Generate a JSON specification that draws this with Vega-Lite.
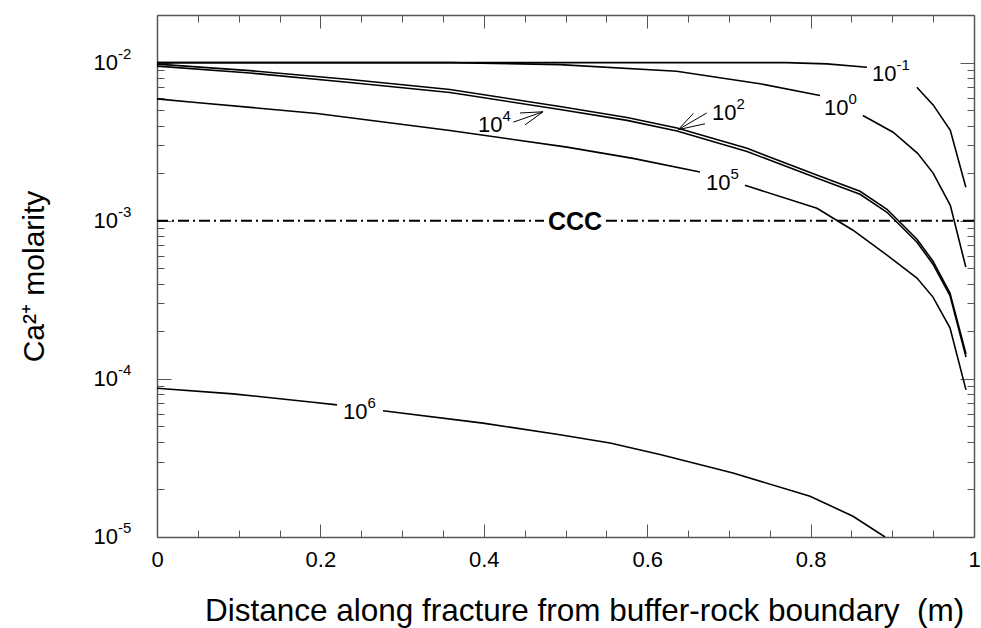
{
  "$schema": "https://vega.github.io/schema/vega-lite/v6.json",
  "width": 817,
  "height": 522,
  "autosize": {"type": "none"},
  "padding": {"left": 157, "top": 15, "right": 7, "bottom": 91},
  "background": "white",
  "config": {
    "view": {"stroke": null},
    "font": "Liberation Sans",
    "text": {"font": "Liberation Sans", "color": "#000"}
  },
  "datasets": {
    "curves": [
      {"s": "m1", "p": 1, "x": 0, "y": 0.01},
      {"s": "m1", "p": 1, "x": 0.77, "y": 0.01},
      {"s": "m1", "p": 1, "x": 0.82, "y": 0.00982},
      {"s": "m1", "p": 1, "x": 0.869, "y": 0.00934},
      {"s": "m1", "p": 2, "x": 0.93, "y": 0.00698},
      {"s": "m1", "p": 2, "x": 0.95, "y": 0.0054},
      {"s": "m1", "p": 2, "x": 0.971, "y": 0.00373},
      {"s": "m1", "p": 2, "x": 0.99, "y": 0.00163},

      {"s": "e0", "p": 1, "x": 0, "y": 0.01},
      {"s": "e0", "p": 1, "x": 0.36, "y": 0.01},
      {"s": "e0", "p": 1, "x": 0.493, "y": 0.00971},
      {"s": "e0", "p": 1, "x": 0.636, "y": 0.00881},
      {"s": "e0", "p": 1, "x": 0.738, "y": 0.00735},
      {"s": "e0", "p": 1, "x": 0.8115, "y": 0.00619},
      {"s": "e0", "p": 2, "x": 0.864, "y": 0.00463},
      {"s": "e0", "p": 2, "x": 0.901, "y": 0.00363},
      {"s": "e0", "p": 2, "x": 0.931, "y": 0.00267},
      {"s": "e0", "p": 2, "x": 0.95, "y": 0.002},
      {"s": "e0", "p": 2, "x": 0.971, "y": 0.00125},
      {"s": "e0", "p": 2, "x": 0.99, "y": 0.000509},

      {"s": "e2", "p": 1, "x": 0, "y": 0.00978},
      {"s": "e2", "p": 1, "x": 0.1138, "y": 0.0089},
      {"s": "e2", "p": 1, "x": 0.2362, "y": 0.00781},
      {"s": "e2", "p": 1, "x": 0.3586, "y": 0.00676},
      {"s": "e2", "p": 1, "x": 0.4933, "y": 0.00528},
      {"s": "e2", "p": 1, "x": 0.5753, "y": 0.0045},
      {"s": "e2", "p": 1, "x": 0.6365, "y": 0.003862},
      {"s": "e2", "p": 1, "x": 0.7222, "y": 0.00287},
      {"s": "e2", "p": 1, "x": 0.8115, "y": 0.001909},
      {"s": "e2", "p": 1, "x": 0.8605, "y": 0.001535},
      {"s": "e2", "p": 1, "x": 0.8935, "y": 0.001182},
      {"s": "e2", "p": 1, "x": 0.907, "y": 0.001007},
      {"s": "e2", "p": 1, "x": 0.9302, "y": 0.000764},
      {"s": "e2", "p": 1, "x": 0.9498, "y": 0.000555},
      {"s": "e2", "p": 1, "x": 0.9706, "y": 0.000349},
      {"s": "e2", "p": 1, "x": 0.9902, "y": 0.0001438},

      {"s": "e4", "p": 1, "x": 0, "y": 0.0095},
      {"s": "e4", "p": 1, "x": 0.1138, "y": 0.00859},
      {"s": "e4", "p": 1, "x": 0.2362, "y": 0.00748},
      {"s": "e4", "p": 1, "x": 0.3586, "y": 0.00647},
      {"s": "e4", "p": 1, "x": 0.4933, "y": 0.00505},
      {"s": "e4", "p": 1, "x": 0.5753, "y": 0.00431},
      {"s": "e4", "p": 1, "x": 0.6365, "y": 0.003697},
      {"s": "e4", "p": 1, "x": 0.7222, "y": 0.00274},
      {"s": "e4", "p": 1, "x": 0.8115, "y": 0.001827},
      {"s": "e4", "p": 1, "x": 0.8605, "y": 0.001469},
      {"s": "e4", "p": 1, "x": 0.8935, "y": 0.001131},
      {"s": "e4", "p": 1, "x": 0.907, "y": 0.000964},
      {"s": "e4", "p": 1, "x": 0.9302, "y": 0.000732},
      {"s": "e4", "p": 1, "x": 0.9498, "y": 0.000531},
      {"s": "e4", "p": 1, "x": 0.9706, "y": 0.000336},
      {"s": "e4", "p": 1, "x": 0.9902, "y": 0.0001376},

      {"s": "e5", "p": 1, "x": 0, "y": 0.0059},
      {"s": "e5", "p": 1, "x": 0.0441, "y": 0.00562},
      {"s": "e5", "p": 1, "x": 0.1958, "y": 0.00477},
      {"s": "e5", "p": 1, "x": 0.3586, "y": 0.00372},
      {"s": "e5", "p": 1, "x": 0.5018, "y": 0.00292},
      {"s": "e5", "p": 1, "x": 0.5826, "y": 0.002479},
      {"s": "e5", "p": 1, "x": 0.6646, "y": 0.002032},
      {"s": "e5", "p": 2, "x": 0.7197, "y": 0.001675},
      {"s": "e5", "p": 2, "x": 0.8078, "y": 0.001199},
      {"s": "e5", "p": 2, "x": 0.8519, "y": 0.000871},
      {"s": "e5", "p": 2, "x": 0.8935, "y": 0.000606},
      {"s": "e5", "p": 2, "x": 0.9302, "y": 0.000434},
      {"s": "e5", "p": 2, "x": 0.9498, "y": 0.000329},
      {"s": "e5", "p": 2, "x": 0.9706, "y": 0.00021},
      {"s": "e5", "p": 2, "x": 0.9902, "y": 0.0000852},

      {"s": "e6", "p": 1, "x": 0, "y": 0.0000873},
      {"s": "e6", "p": 1, "x": 0.093, "y": 0.0000804},
      {"s": "e6", "p": 1, "x": 0.1909, "y": 0.0000711},
      {"s": "e6", "p": 1, "x": 0.2203, "y": 0.0000685},
      {"s": "e6", "p": 2, "x": 0.2766, "y": 0.0000628},
      {"s": "e6", "p": 2, "x": 0.399, "y": 0.0000525},
      {"s": "e6", "p": 2, "x": 0.4933, "y": 0.0000443},
      {"s": "e6", "p": 2, "x": 0.5545, "y": 0.0000393},
      {"s": "e6", "p": 2, "x": 0.6157, "y": 0.0000332},
      {"s": "e6", "p": 2, "x": 0.705, "y": 0.0000254},
      {"s": "e6", "p": 2, "x": 0.7993, "y": 0.0000181},
      {"s": "e6", "p": 2, "x": 0.8519, "y": 0.00001353},
      {"s": "e6", "p": 2, "x": 0.8911, "y": 0.00001}
    ],
    "ccc": [
      {"p": 1, "x": 0, "y": 0.001},
      {"p": 1, "x": 0.4737, "y": 0.001},
      {"p": 2, "x": 0.5495, "y": 0.001},
      {"p": 2, "x": 1, "y": 0.001}
    ],
    "arrows": [
      {"x": 0.4361, "y": 0.004201, "x2": 0.4725, "y2": 0.004887},
      {"x": 0.4443, "y": 0.004801, "x2": 0.4725, "y2": 0.004887},
      {"x": 0.4504, "y": 0.004034, "x2": 0.4725, "y2": 0.004887},
      {"x": 0.6728, "y": 0.004801, "x2": 0.6381, "y2": 0.003767},
      {"x": 0.6564, "y": 0.00477, "x2": 0.6381, "y2": 0.003767},
      {"x": 0.6708, "y": 0.004104, "x2": 0.6381, "y2": 0.003767}
    ],
    "curveLabels": [
      {"x": 0.8752, "y": 0.0077, "e": "-1"},
      {"x": 0.8164, "y": 0.004629, "e": "0"},
      {"x": 0.6793, "y": 0.004306, "e": "2"},
      {"x": 0.3929, "y": 0.003634, "e": "4"},
      {"x": 0.672, "y": 0.001557, "e": "5"},
      {"x": 0.2277, "y": 0.0000559, "e": "6"}
    ],
    "yLabels": [
      {"x": 0, "y": 0.01, "e": "-2"},
      {"x": 0, "y": 0.001, "e": "-3"},
      {"x": 0, "y": 0.0001, "e": "-4"},
      {"x": 0, "y": 0.00001, "e": "-5"}
    ],
    "cccLabel": [
      {"x": 0.5116, "y": 0.000871, "t": "CCC"}
    ]
  },
  "encoding": {
    "x": {"field": "x", "type": "quantitative", "scale": {"domain": [0, 1], "nice": false, "zero": false}, "axis": null},
    "y": {"field": "y", "type": "quantitative", "scale": {"type": "log", "domain": [0.00001, 0.02], "nice": false}, "axis": null}
  },
  "layer": [
    {
      "data": {"name": "curves"},
      "mark": {"type": "line", "color": "#000", "strokeWidth": 1.6, "clip": true},
      "encoding": {
        "x": {
          "field": "x", "type": "quantitative",
          "scale": {"domain": [0, 1], "nice": false, "zero": false},
          "axis": {
            "orient": "bottom",
            "values": [0, 0.05, 0.1, 0.15, 0.2, 0.25, 0.3, 0.35, 0.4, 0.45, 0.5, 0.55, 0.6, 0.65, 0.7, 0.75, 0.8, 0.85, 0.9, 0.95, 1],
            "labelExpr": "abs(datum.value * 5 - round(datum.value * 5)) < 0.001 ? format(datum.value, '~g') : ''",
            "labelFont": "Liberation Sans", "labelFontSize": 22, "labelColor": "#000",
            "labelPadding": 25, "labelBaseline": "top", "labelFlush": false, "labelOverlap": false,
            "domain": true, "domainColor": "#555", "domainWidth": 1.5,
            "ticks": true, "tickColor": "#555", "tickWidth": 1,
            "tickSize": {"condition": {"test": "abs(datum.value * 5 - round(datum.value * 5)) < 0.001", "value": -13}, "value": -7},
            "grid": false,
            "title": "Distance along fracture from buffer-rock boundary\u00a0 (m)",
            "titleFont": "Liberation Sans", "titleFontSize": 31.5, "titleFontWeight": "normal", "titleColor": "#000",
            "titlePadding": 19, "titleX": 427, "titleAlign": "center"
          }
        },
        "y": {
          "field": "y", "type": "quantitative",
          "scale": {"type": "log", "domain": [0.00001, 0.02], "nice": false},
          "axis": {
            "orient": "left",
            "values": [0.00001, 0.00002, 0.00003, 0.00004, 0.00005, 0.00006, 0.00007, 0.00008, 0.00009,
                       0.0001, 0.0002, 0.0003, 0.0004, 0.0005, 0.0006, 0.0007, 0.0008, 0.0009,
                       0.001, 0.002, 0.003, 0.004, 0.005, 0.006, 0.007, 0.008, 0.009, 0.01],
            "labels": false,
            "domain": true, "domainColor": "#555", "domainWidth": 1.5,
            "ticks": true, "tickColor": "#555", "tickWidth": 1,
            "tickSize": {"condition": {"test": "abs(log(datum.value) / LN10 - round(log(datum.value) / LN10)) < 0.001", "value": -14}, "value": -7},
            "grid": false,
            "title": "Ca²⁺ molarity",
            "titleFont": "Liberation Sans", "titleFontSize": 30, "titleFontWeight": "normal", "titleColor": "#000",
            "titlePadding": 107
          }
        },
        "detail": [{"field": "s"}, {"field": "p"}]
      }
    },
    {
      "data": {"name": "ccc"},
      "mark": {"type": "line", "color": "#000", "strokeWidth": 2, "strokeDash": [11, 4, 2, 4]},
      "encoding": {
        "x": {
          "field": "x", "type": "quantitative",
          "scale": {"domain": [0, 1], "nice": false, "zero": false},
          "axis": {
            "orient": "top",
            "values": [0, 0.05, 0.1, 0.15, 0.2, 0.25, 0.3, 0.35, 0.4, 0.45, 0.5, 0.55, 0.6, 0.65, 0.7, 0.75, 0.8, 0.85, 0.9, 0.95, 1],
            "labels": false,
            "domain": true, "domainColor": "#555", "domainWidth": 1.5,
            "ticks": true, "tickColor": "#555", "tickWidth": 1,
            "tickSize": {"condition": {"test": "abs(datum.value * 5 - round(datum.value * 5)) < 0.001", "value": -13}, "value": -7},
            "grid": false, "title": null
          }
        },
        "y": {
          "field": "y", "type": "quantitative",
          "scale": {"type": "log", "domain": [0.00001, 0.02], "nice": false},
          "axis": {
            "orient": "right",
            "values": [0.00001, 0.00002, 0.00003, 0.00004, 0.00005, 0.00006, 0.00007, 0.00008, 0.00009,
                       0.0001, 0.0002, 0.0003, 0.0004, 0.0005, 0.0006, 0.0007, 0.0008, 0.0009,
                       0.001, 0.002, 0.003, 0.004, 0.005, 0.006, 0.007, 0.008, 0.009, 0.01],
            "labels": false,
            "domain": true, "domainColor": "#555", "domainWidth": 1.5,
            "ticks": true, "tickColor": "#555", "tickWidth": 1,
            "tickSize": {"condition": {"test": "abs(log(datum.value) / LN10 - round(log(datum.value) / LN10)) < 0.001", "value": -14}, "value": -7},
            "grid": false, "title": null
          }
        },
        "detail": {"field": "p"}
      }
    },
    {
      "data": {"name": "arrows"},
      "mark": {"type": "rule", "color": "#000", "strokeWidth": 1},
      "encoding": {
        "x2": {"field": "x2"},
        "y2": {"field": "y2"}
      }
    },
    {
      "data": {"name": "curveLabels"},
      "mark": {"type": "text", "align": "left", "baseline": "alphabetic", "fontSize": 22, "text": "10"}
    },
    {
      "data": {"name": "curveLabels"},
      "mark": {"type": "text", "align": "left", "baseline": "alphabetic", "fontSize": 15, "dx": 24.5, "dy": -11},
      "encoding": {"text": {"field": "e"}}
    },
    {
      "data": {"name": "yLabels"},
      "mark": {"type": "text", "align": "right", "baseline": "alphabetic", "fontSize": 22, "dx": -39, "dy": 7, "text": "10"}
    },
    {
      "data": {"name": "yLabels"},
      "mark": {"type": "text", "align": "left", "baseline": "alphabetic", "fontSize": 15, "dx": -39, "dy": -4},
      "encoding": {"text": {"field": "e"}}
    },
    {
      "data": {"name": "cccLabel"},
      "mark": {"type": "text", "align": "center", "baseline": "alphabetic", "fontSize": 25, "fontWeight": "bold"},
      "encoding": {"text": {"field": "t"}}
    }
  ],
  "resolve": {"axis": {"x": "independent", "y": "independent"}}
}
